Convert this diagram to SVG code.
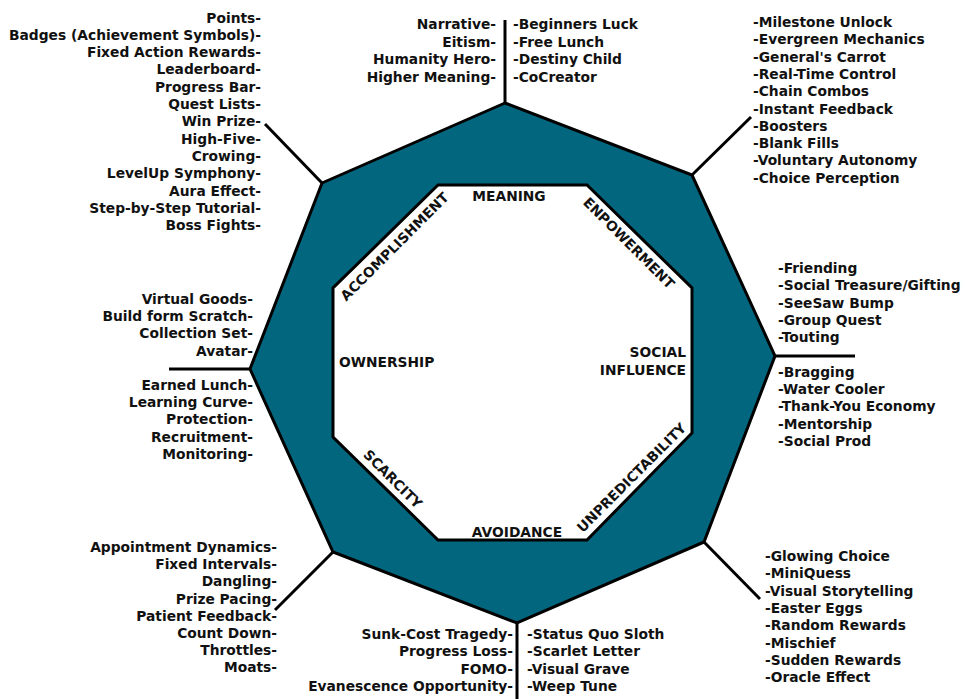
<svg xmlns="http://www.w3.org/2000/svg" width="968" height="699" viewBox="0 0 968 699">
<style>
.t{font-family:"DejaVu Sans",Verdana,sans-serif;font-weight:bold;font-size:13.8px;fill:#111}
.e{text-anchor:end}
.m{text-anchor:middle}
.ln{stroke:#000;stroke-width:3;fill:none}
</style>
<rect width="968" height="699" fill="#fff"/>
<g id="connectors">
<path class="ln" d="M505 103V20"/>
<path class="ln" d="M692 175L751 117"/>
<path class="ln" d="M775 356H855"/>
<path class="ln" d="M704 542L760 599"/>
<path class="ln" d="M517 623V699"/>
<path class="ln" d="M333 552L275 610"/>
<path class="ln" d="M250 369H169"/>
<path class="ln" d="M322 183L265 124"/>
</g>
<g id="octagon">
<polygon points="505,103 692,175 775,356 704,542 517,623 333,552 250,369 322,183" fill="#03667f" stroke="#000" stroke-width="3" stroke-linejoin="miter"/>
<polygon points="438,185 587,185 692,288 692,433 587,540 438,540 333,437 333,288" fill="#fff" stroke="#000" stroke-width="3"/>
</g>
<g id="meaning">
<text class="t m" x="509" y="201">MEANING</text>
<text class="t e" x="496" y="29"><tspan x="496">Narrative-</tspan><tspan x="496" dy="17.5">Eitism-</tspan><tspan x="496" dy="17.5">Humanity Hero-</tspan><tspan x="496" dy="17.5">Higher Meaning-</tspan></text>
<text class="t" x="513" y="29"><tspan x="513">-Beginners Luck</tspan><tspan x="513" dy="17.5">-Free Lunch</tspan><tspan x="513" dy="17.5">-Destiny Child</tspan><tspan x="513" dy="17.5">-CoCreator</tspan></text>
</g>
<g id="empowerment">
<text class="t m" x="625.5" y="246.5" transform="rotate(45 625.5 246.5)">ENPOWERMENT</text>
<text class="t" x="753" y="27"><tspan x="753">-Milestone Unlock</tspan><tspan x="753" dy="17.3">-Evergreen Mechanics</tspan><tspan x="753" dy="17.3">-General's Carrot</tspan><tspan x="753" dy="17.3">-Real-Time Control</tspan><tspan x="753" dy="17.3">-Chain Combos</tspan><tspan x="753" dy="17.3">-Instant Feedback</tspan><tspan x="753" dy="17.3">-Boosters</tspan><tspan x="753" dy="17.3">-Blank Fills</tspan><tspan x="753" dy="17.3">-Voluntary Autonomy</tspan><tspan x="753" dy="17.3">-Choice Perception</tspan></text>
</g>
<g id="social-influence">
<text class="t e" x="686" y="357"><tspan x="686">SOCIAL</tspan><tspan x="686" dy="18">INFLUENCE</tspan></text>
<text class="t" x="778" y="273"><tspan x="778">-Friending</tspan><tspan x="778" dy="17.3">-Social Treasure/Gifting</tspan><tspan x="778" dy="17.3">-SeeSaw Bump</tspan><tspan x="778" dy="17.3">-Group Quest</tspan><tspan x="778" dy="17.3">-Touting</tspan></text>
<text class="t" x="778" y="377"><tspan x="778">-Bragging</tspan><tspan x="778" dy="17.2">-Water Cooler</tspan><tspan x="778" dy="17.2">-Thank-You Economy</tspan><tspan x="778" dy="17.2">-Mentorship</tspan><tspan x="778" dy="17.2">-Social Prod</tspan></text>
</g>
<g id="unpredictability">
<text class="t m" x="635" y="481" transform="rotate(-45 635 481)">UNPREDICTABILITY</text>
<text class="t" x="765" y="561"><tspan x="765">-Glowing Choice</tspan><tspan x="765" dy="17.3">-MiniQuess</tspan><tspan x="765" dy="17.3">-Visual Storytelling</tspan><tspan x="765" dy="17.3">-Easter Eggs</tspan><tspan x="765" dy="17.3">-Random Rewards</tspan><tspan x="765" dy="17.3">-Mischief</tspan><tspan x="765" dy="17.3">-Sudden Rewards</tspan><tspan x="765" dy="17.3">-Oracle Effect</tspan></text>
</g>
<g id="avoidance">
<text class="t m" x="517" y="537">AVOIDANCE</text>
<text class="t e" x="513" y="639"><tspan x="513">Sunk-Cost Tragedy-</tspan><tspan x="513" dy="17.3">Progress Loss-</tspan><tspan x="513" dy="17.3">FOMO-</tspan><tspan x="513" dy="17.3">Evanescence Opportunity-</tspan></text>
<text class="t" x="527" y="639"><tspan x="527">-Status Quo Sloth</tspan><tspan x="527" dy="17.3">-Scarlet Letter</tspan><tspan x="527" dy="17.3">-Visual Grave</tspan><tspan x="527" dy="17.3">-Weep Tune</tspan></text>
</g>
<g id="scarcity">
<text class="t m" x="389.5" y="482.5" transform="rotate(45 389.5 482.5)">SCARCITY</text>
<text class="t e" x="277" y="552"><tspan x="277">Appointment Dynamics-</tspan><tspan x="277" dy="17.2">Fixed Intervals-</tspan><tspan x="277" dy="17.2">Dangling-</tspan><tspan x="277" dy="17.2">Prize Pacing-</tspan><tspan x="277" dy="17.2">Patient Feedback-</tspan><tspan x="277" dy="17.2">Count Down-</tspan><tspan x="277" dy="17.2">Throttles-</tspan><tspan x="277" dy="17.2">Moats-</tspan></text>
</g>
<g id="ownership">
<text class="t" x="339" y="367">OWNERSHIP</text>
<text class="t e" x="253" y="304"><tspan x="253">Virtual Goods-</tspan><tspan x="253" dy="17.2">Build form Scratch-</tspan><tspan x="253" dy="17.2">Collection Set-</tspan><tspan x="253" dy="17.2">Avatar-</tspan></text>
<text class="t e" x="253" y="390"><tspan x="253">Earned Lunch-</tspan><tspan x="253" dy="17.2">Learning Curve-</tspan><tspan x="253" dy="17.2">Protection-</tspan><tspan x="253" dy="17.2">Recruitment-</tspan><tspan x="253" dy="17.2">Monitoring-</tspan></text>
</g>
<g id="accomplishment">
<text class="t m" x="398" y="250" transform="rotate(-45 398 250)">ACCOMPLISHMENT</text>
<text class="t e" x="261" y="22.5"><tspan x="261">Points-</tspan><tspan x="261" dy="17.3">Badges (Achievement Symbols)-</tspan><tspan x="261" dy="17.3">Fixed Action Rewards-</tspan><tspan x="261" dy="17.3">Leaderboard-</tspan><tspan x="261" dy="17.3">Progress Bar-</tspan><tspan x="261" dy="17.3">Quest Lists-</tspan><tspan x="261" dy="17.3">Win Prize-</tspan><tspan x="261" dy="17.3">High-Five-</tspan><tspan x="261" dy="17.3">Crowing-</tspan><tspan x="261" dy="17.3">LevelUp Symphony-</tspan><tspan x="261" dy="17.3">Aura Effect-</tspan><tspan x="261" dy="17.3">Step-by-Step Tutorial-</tspan><tspan x="261" dy="17.3">Boss Fights-</tspan></text>
</g>
</svg>
